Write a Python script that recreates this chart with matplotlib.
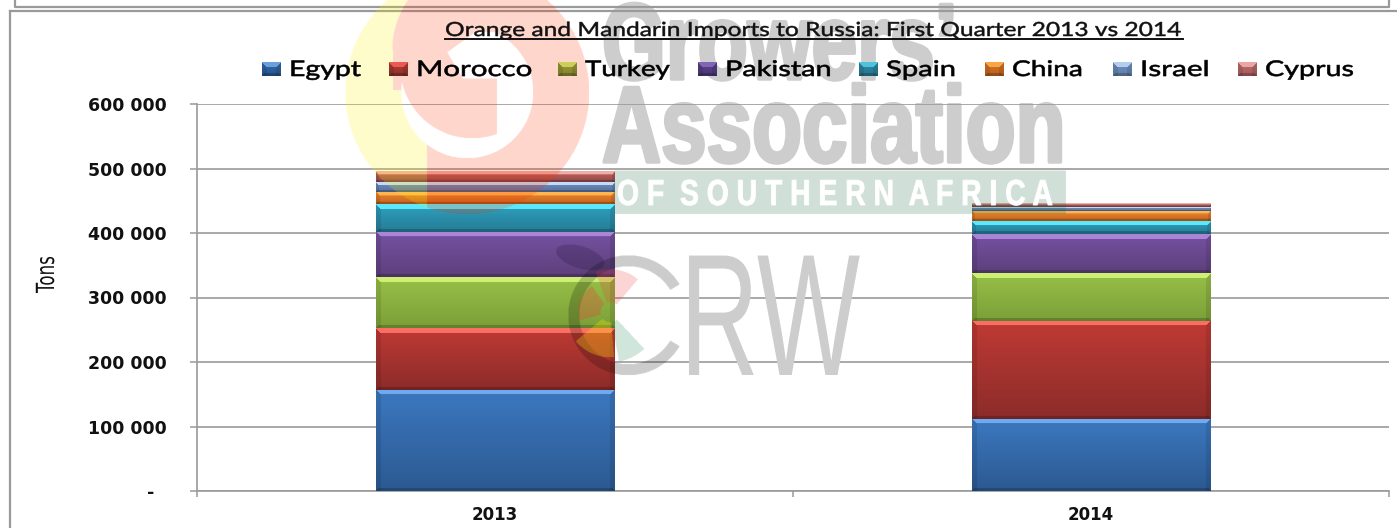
import numpy as np
import matplotlib
matplotlib.use("Agg")
import matplotlib.pyplot as plt
from matplotlib.patheffects import AbstractPathEffect
from matplotlib.transforms import Affine2D

years = ["2013", "2014"]
countries = ["Egypt", "Morocco", "Turkey", "Pakistan", "Spain", "China", "Israel", "Cyprus"]
values_2013 = [157000, 96000, 79000, 70000, 43000, 19000, 15000, 16000]
values_2014 = [112000, 152000, 74000, 60000, 20000, 16000, 6000, 5000]
y_ticks = [0, 100000, 200000, 300000, 400000, 500000, 600000]
y_tick_labels = ["-  ", "100 000", "200 000", "300 000", "400 000", "500 000", "600 000"]

# top colour, body top, body bottom
colors = [
    ((110, 170, 240), (60, 120, 192), (44, 90, 146)),
    ((250, 110, 100), (192, 58, 52), (140, 44, 42)),
    ((205, 240, 115), (152, 192, 72), (124, 160, 56)),
    ((172, 132, 215), (118, 82, 162), (94, 64, 124)),
    ((90, 232, 250), (46, 162, 192), (38, 124, 150)),
    ((255, 182, 82), (240, 140, 50), (198, 100, 30)),
    ((195, 218, 250), (112, 142, 188), (88, 114, 160)),
    ((242, 172, 166), (194, 96, 94), (150, 76, 76)),
]
handle_colors = [
    ((105, 160, 220), (50, 105, 170), (40, 85, 140)),
    ((235, 90, 80), (185, 60, 50), (140, 50, 40)),
    ((205, 205, 90), (155, 155, 55), (130, 130, 45)),
    ((130, 100, 180), (90, 65, 140), (75, 55, 115)),
    ((80, 195, 220), (45, 140, 170), (40, 115, 140)),
    ((250, 165, 70), (215, 120, 40), (185, 95, 30)),
    ((180, 205, 240), (115, 145, 190), (95, 125, 170)),
    ((235, 165, 165), (190, 110, 110), (165, 90, 90)),
]
legend_x = [262, 389, 558, 698, 859, 985, 1113, 1238]
legend_w = [72, 116, 85, 107, 70, 71, 70, 89]

W, H = 1397, 528
GREY = "#9a9a9a"


class Stretch(AbstractPathEffect):
    # squeeze or widen a text along its own direction, with an optional outline to thicken it
    def __init__(self, sx, stroke=0):
        super().__init__()
        self.sx = sx
        self.stroke = stroke

    def draw_path(self, renderer, gc, tpath, affine, rgbFace=None):
        tr = Affine2D().scale(self.sx, 1) + affine
        if self.stroke:
            gc0 = renderer.new_gc()
            gc0.copy_properties(gc)
            gc0.set_linewidth(self.stroke)
            gc0.set_foreground(rgbFace)
            renderer.draw_path(gc0, tpath, tr, rgbFace)
            gc0.restore()
        else:
            renderer.draw_path(gc, tpath, tr, rgbFace)


def fit_width(t, width, stroke=0):
    natural = t.get_window_extent(fig.canvas.get_renderer()).width
    t.set_path_effects([Stretch(width / natural, stroke)])


def bevel_image(w, h, col, bev=5):
    top, c0, c1 = [np.array(c, float) for c in col]
    yy, xx = np.mgrid[0:h, 0:w]
    t = (yy / max(h - 1, 1))[..., None]
    img = c0 * (1 - t) + c1 * t
    b = min(bev, h / 3)
    dt = yy + 0.5
    db = h - yy - 0.5
    dl = xx + 0.5
    dr = w - xx - 0.5
    side = (np.minimum(dl, dr) < b) & (dt > np.minimum(dl, dr))
    img[side] *= 0.9
    img[(dt < b) & (dt <= dl) & (dt <= dr)] = top
    img[(db < b * 0.6) & (db <= dl) & (db <= dr)] *= 0.8
    return np.clip(img, 0, 255).astype(np.uint8)


fig = plt.figure(figsize=(W / 100, H / 100), dpi=100)
ax = fig.add_axes([197 / W, 1 - 491 / H, (1389 - 197) / W, (491 - 104) / H])

x = np.arange(len(years))
bottom = np.zeros(len(years))
series = np.array([values_2013, values_2014]).T
for i, name in enumerate(countries):
    bars = ax.bar(x, series[i], 0.4, bottom=bottom, color="none", zorder=3)
    for b in bars:
        x0, y0, bw, bh = b.get_x(), b.get_y(), b.get_width(), b.get_height()
        pw = int(round(bw * 596))
        ph = max(int(round(bh * 387 / 600000)), 2)
        ax.imshow(bevel_image(pw, ph, colors[i]), extent=[x0, x0 + bw, y0, y0 + bh],
                  aspect="auto", zorder=3, interpolation="bilinear")
    bottom += series[i]

ax.set_xlim(-0.5, 1.5)
ax.set_ylim(0, 600000)
ax.set_yticks(y_ticks)
ax.set_yticklabels(y_tick_labels, fontweight="bold", fontsize=12.5, color="#111111")
ax.set_xticks([-0.5, 0.5, 1.5])
ax.set_xticklabels([])
ax.tick_params(axis="y", length=5, width=1.1, color=GREY, pad=17)
ax.tick_params(axis="x", length=4.5, width=1.1, color=GREY)
ax.grid(axis="y", color=GREY, linewidth=1.2)
ax.set_axisbelow(True)
for s in ["top", "right"]:
    ax.spines[s].set_visible(False)
for s in ["left", "bottom"]:
    ax.spines[s].set_color(GREY)
    ax.spines[s].set_linewidth(1.2)

# overlay in pixel coordinates: frames, watermark, title, legend
ov = fig.add_axes([0, 0, 1, 1], zorder=5)
ov.axis("off")
ov.patch.set_alpha(0)

ov.plot([15, 15, 1389, 1389], [0, 7, 7, 0], color=GREY, lw=1.6)
ov.plot([10, 10], [H, 11], color=GREY, lw=1.6)
ov.plot([10, W], [11, 11], color=GREY, lw=1.6)

# watermark logo
yy, xx = np.mgrid[0:H * 2, 0:W * 2] / 2.0


def disk(cx, cy, r):
    return (xx - cx) ** 2 + (yy - cy) ** 2 < r ** 2


def tint(mask, rgb, alpha):
    img = np.zeros((H * 2, W * 2, 4))
    img[..., :3] = np.array(rgb) / 255
    img[..., 3] = mask * alpha
    ov.imshow(img, extent=[0, W, H, 0], aspect="auto", zorder=2, interpolation="hanning")


big = disk(467, 92, 122)
red_left = np.where(yy < 50, 480 - np.sqrt(np.maximum(88 ** 2 - (yy - 50) ** 2, 0)),
                    np.where(yy < 90, 393, 427))
inner = (disk(472, 66, 72) & (xx < 497) & (yy > 78)) | ((yy <= 78) & (xx < 447 + np.abs(yy - 52) * np.where(yy > 52, 0.6, 1.4))) | (yy < 32)
hole = disk(467, 92, 66) & ~inner
red_part = big & ~hole & ((xx >= red_left) | (inner & (yy > 78) & (yy < 150) & disk(467, 92, 66)))
tint(red_part, (250, 50, 0), 0.2)
tint(big & ~hole & ~red_part, (255, 240, 0), 0.2)

tint((xx > 614) & (xx < 1066) & (yy > 170) & (yy < 214), (20, 100, 60), 0.2)

# CRW mark
ang = np.degrees(np.arctan2(yy - 315, xx - 628))
tint(disk(628, 315, 60) & ~disk(628, 315, 49) & (np.abs(ang) > 31), (0, 0, 0), 0.2)
r = np.hypot(xx - 610, yy - 312)
a = np.degrees(np.arctan2(yy - 312, xx - 610)) % 360
tint((r > 10) & (r < 43) & (a > 250) & (a < 310), (240, 60, 60), 0.22)
tint((r > 10) & (r < 32) & (a > 165) & (a < 235), (240, 60, 60), 0.3)
tint((r > 10) & (r < 45) & (a > 85) & (a < 140), (255, 240, 0), 0.28)
tint((r > 10) & (r < 50) & (a > 47) & (a < 80), (20, 130, 70), 0.2)
lx, ly = xx - 580, yy - 257
lu = lx * np.cos(0.3) + ly * np.sin(0.3)
lv = -lx * np.sin(0.3) + ly * np.cos(0.3)
tint((lu / 25) ** 2 + (lv / 11) ** 2 < 1, (20, 10, 40), 0.2)

# legend handles
for i, name in enumerate(countries):
    lx0 = legend_x[i]
    ov.imshow(bevel_image(19, 14, handle_colors[i], bev=7), extent=[lx0, lx0 + 19, 76, 62],
              aspect="auto", zorder=6, interpolation="bilinear")
ov.set_xlim(0, W)
ov.set_ylim(H, 0)

# big grey letters sit under the gridlines
wm = dict(color="#cdcdcd", family="Liberation Sans", fontweight="bold", zorder=0.4,
          ha="left", va="baseline", transform=ov.transData, clip_on=False)
fit_width(ax.text(602, 79, "Growers\u2019", fontsize=78, **wm), 356, stroke=2.5)
fit_width(ax.text(602, 162, "Association", fontsize=78, **wm), 464, stroke=2.5)
fit_width(ov.text(617, 205, "O F  S O U T H E R N  A F R I C A", fontsize=26, color="white",
                  family="Liberation Sans", fontweight="bold", ha="left", va="baseline", zorder=3), 435, stroke=0.6)
fit_width(ov.text(680, 375, "RW", fontsize=125, color="#cdcdcd", family="Liberation Sans",
                  ha="left", va="baseline", zorder=1.5), 180)

# title
fit_width(ov.text(445, 36, "Orange and Mandarin Imports to Russia: First Quarter 2013 vs 2014",
                  fontsize=14, family="Lato", color="#111111", ha="left", va="baseline", zorder=6), 738, stroke=0.35)
ov.plot([445, 1183], [39, 39], color="#111111", lw=1.4, zorder=6)

# legend labels
for i, name in enumerate(countries):
    t = ov.text(legend_x[i] + 27, 76, name, fontsize=15.5, family="Lato", color="black",
                ha="left", va="baseline", zorder=6)
    fit_width(t, legend_w[i], stroke=0.45)

# category and value labels
for i, yr in enumerate(years):
    ov.text(ax.transData.transform((i, 0))[0], 515, yr, fontsize=12, fontweight="bold",
            color="#111111", ha="center", va="center", zorder=6)
tons = ov.text(54, 293, "Tons", fontsize=18, rotation=90, rotation_mode="anchor", ha="left",
               va="baseline", color="#111111", zorder=6)
# rotated, so the length of the word is the height of its box
tons.set_path_effects([Stretch(37 / tons.get_window_extent(fig.canvas.get_renderer()).height)])

fig.savefig("out.png", dpi=100)
